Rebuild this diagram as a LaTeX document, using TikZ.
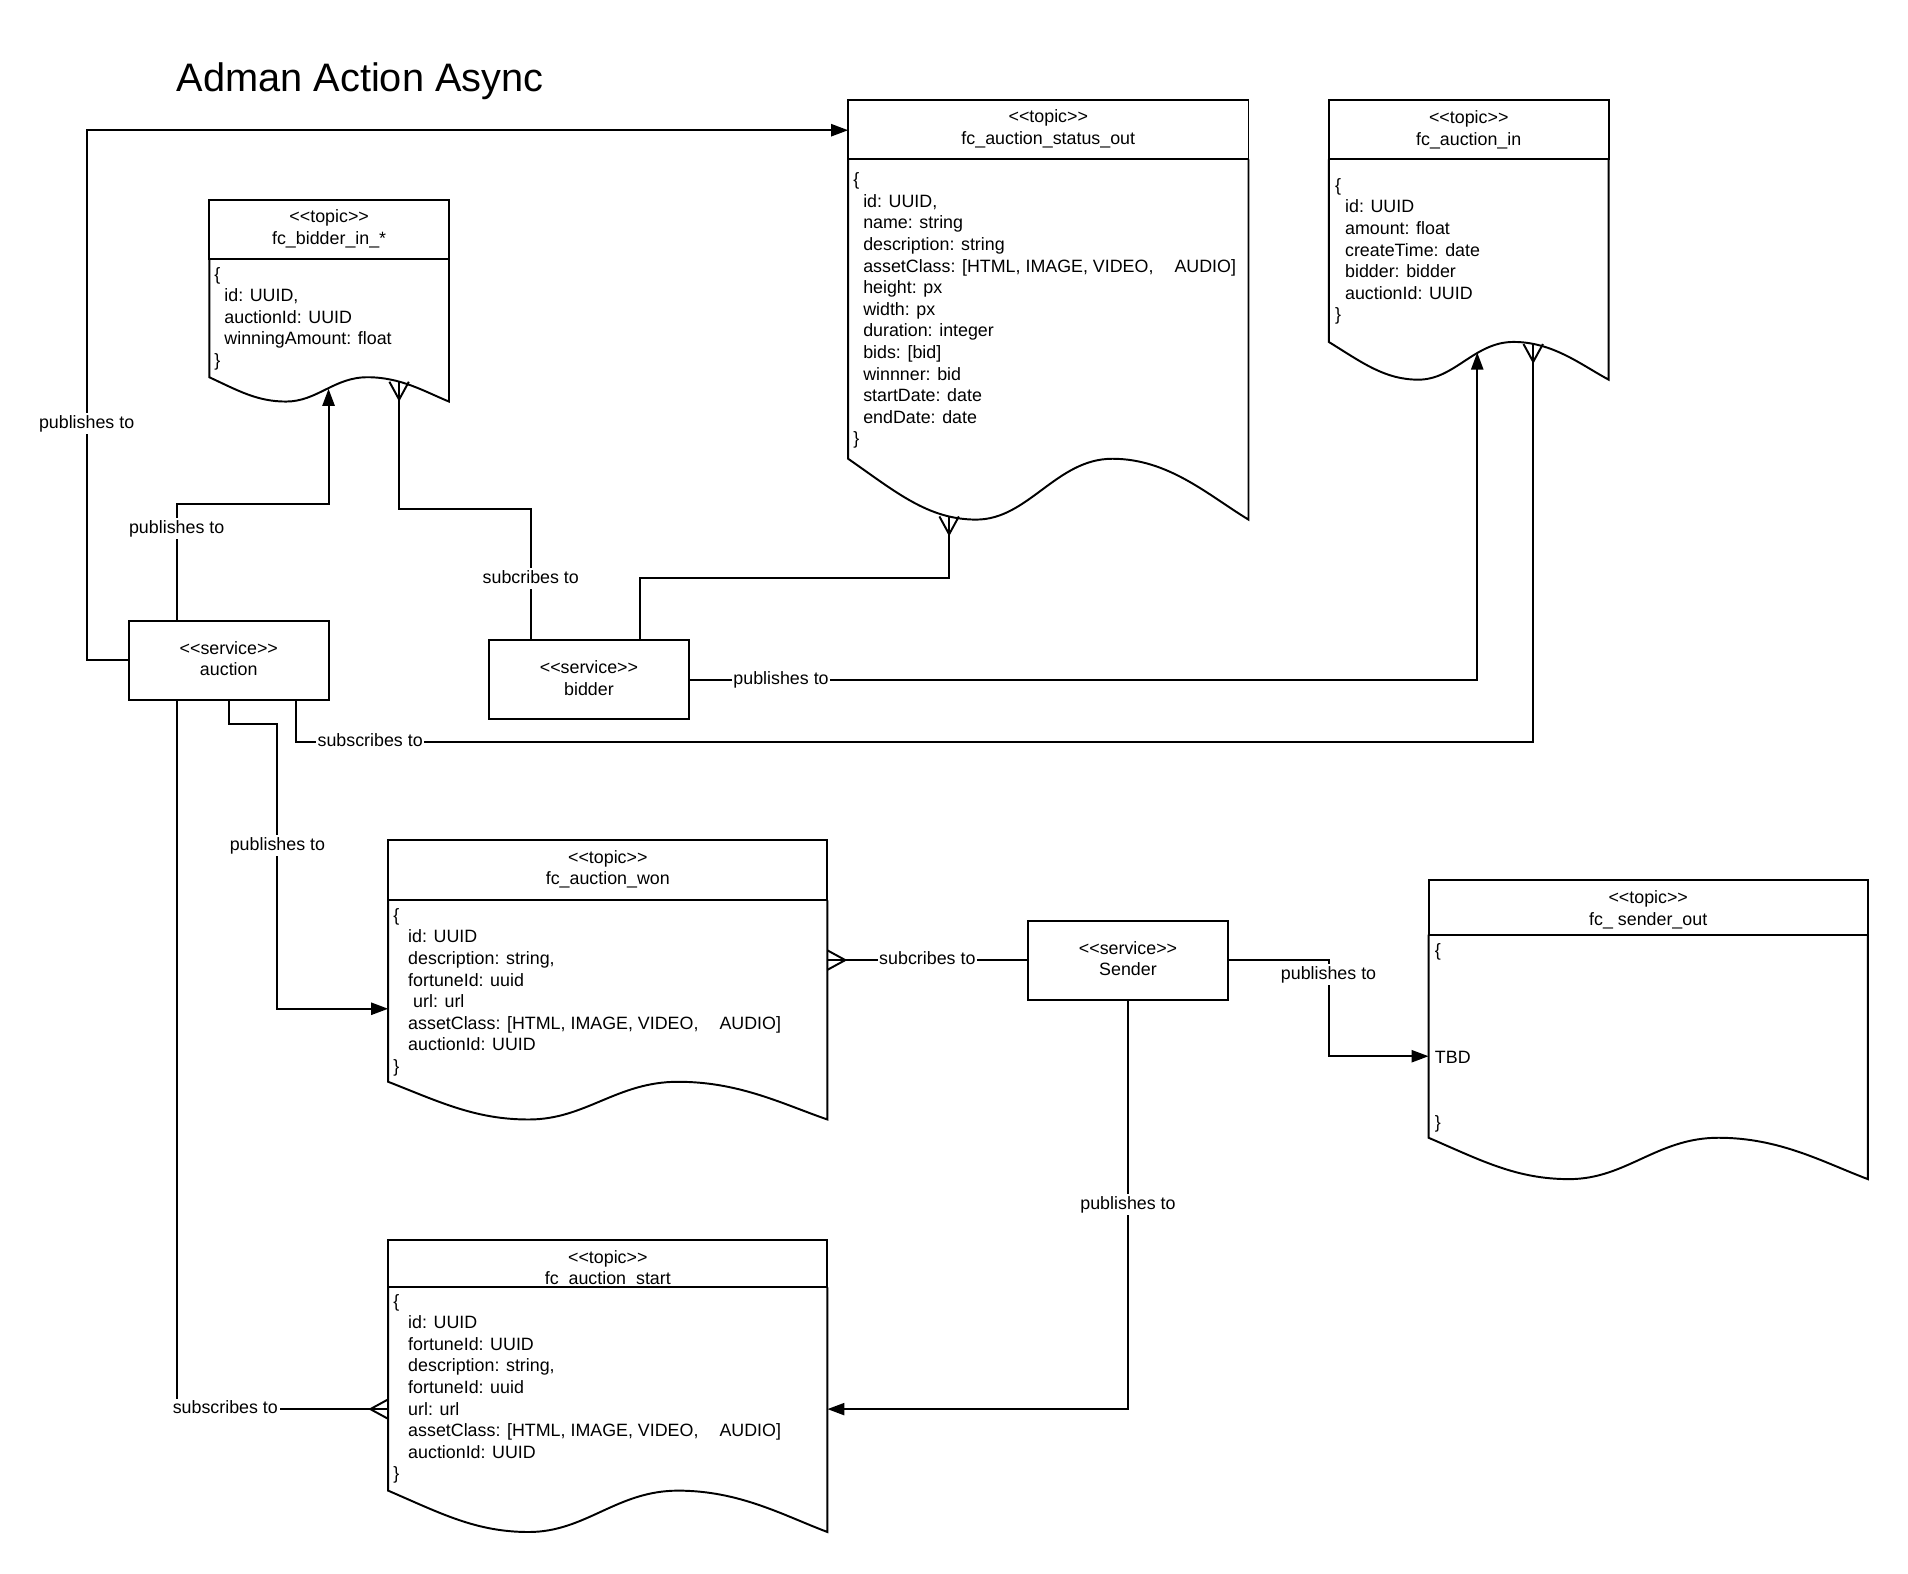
\documentclass[tikz,border=0pt]{standalone}
\usepackage{fontspec}
\setmainfont{Liberation Sans}[Ligatures=TeXOff]
\usetikzlibrary{arrows.meta,calc}

\newcommand\lucidfont{\fontsize{11}{13.3}\selectfont}
\newcommand\indsp[1]{\hspace*{#1\fontdimen2\font}}

% crow's foot for subscriptions
\pgfdeclarearrow{
  name = Crow,
  setup code = {
    \pgfarrowssettipend{0pt}
    \pgfarrowssetlineend{0pt}
    \pgfarrowssetbackend{-11pt}
    \pgfarrowssetvisualbackend{-11pt}
    \pgfarrowshullpoint{0pt}{6pt}
    \pgfarrowshullpoint{0pt}{-6pt}
    \pgfarrowshullpoint{-11pt}{0pt}
  },
  drawing code = {
    \pgfsetdash{}{0pt}
    \pgfpathmoveto{\pgfqpoint{0pt}{6pt}}
    \pgfpathlineto{\pgfqpoint{-11pt}{0pt}}
    \pgfpathlineto{\pgfqpoint{0pt}{-6pt}}
    \pgfusepathqstroke
  }
}

% x0, x1, top, divider, wave top, wave bottom
\newcommand\topicshape[6]{%
  \pgfmathsetmacro\topw{#2-#1}%
  \pgfmathsetmacro\topa{#6-#5}%
  \draw[shape line] (#1,#3) rectangle (#2,#4);
  \draw[shape line] (#1,#4) -- (#1,#5)
    .. controls +(0.12*\topw,0.55*\topa) and +(-0.12*\topw,0) .. (#1+0.32*\topw,#6)
    .. controls +(0.13*\topw,0) and +(-0.14*\topw,0) .. (#1+0.66*\topw,#5)
    .. controls +(0.14*\topw,0) and +(-0.1*\topw,-0.4*\topa) .. (#2,#6)
    -- (#2,#4);
}

\begin{document}
\begin{tikzpicture}[x=0.75pt,y=-0.75pt,
    every node/.style={font=\lucidfont},
    shape line/.style={line width=1.2pt},
    service/.style={draw,line width=1.2pt,minimum width=123pt,minimum height=48.75pt,align=center,inner sep=0pt},
    head/.style={align=center,inner sep=0pt},
    body/.style={anchor=north west,align=left,inner sep=0pt},
    lbl/.style={fill=white,inner sep=1pt,text height=8.5pt,text depth=2.5pt},
    pub/.style={line width=1.2pt,-{Triangle[length=10.5pt,width=7.5pt]}},
    sub/.style={line width=1.2pt,-Crow}]

    \useasboundingbox (0,0) rectangle (1568,1293);

    \node[font=\fontsize{24.5}{29}\selectfont,anchor=base west,inner sep=0pt] (title) at (145,75) {Adman Action Async};

    % topics
    \topicshape{172}{369}{164}{213}{310}{330}
    \node[head] (bidinhead) at (270.5,188) {<<topic>>\\fc\_bidder\_in\_*};
    \node[body] (bidinbody) at (176,217.5) {\strut\{\\\indsp{2}id: UUID,\\\indsp{2}auctionId: UUID\\\indsp{2}winningAmount: float\\\}};

    \topicshape{697}{1026}{82}{131}{377}{427}
    \node[head] (statushead) at (861.5,106) {<<topic>>\\fc\_auction\_status\_out};
    \node[body] (statusbody) at (701,140) {\strut\{\\\indsp{2}id: UUID,\\\indsp{2}name: string\\\indsp{2}description: string\\\indsp{2}assetClass: [HTML, IMAGE, VIDEO,\hspace{13pt}AUDIO]\\\indsp{2}height: px\\\indsp{2}width: px\\\indsp{2}duration: integer\\\indsp{2}bids: [bid]\\\indsp{2}winnner: bid\\\indsp{2}startDate: date\\\indsp{2}endDate: date\\\}};

    \topicshape{1092}{1322}{82}{131}{281}{312}
    \node[head] (auctioninhead) at (1207,106.5) {<<topic>>\\fc\_auction\_in};
    \node[body] (auctioninbody) at (1097,144.5) {\strut\{\\\indsp{2}id: UUID\\\indsp{2}amount: float\\\indsp{2}createTime: date\\\indsp{2}bidder: bidder\\\indsp{2}auctionId: UUID\\\}};

    \topicshape{319}{680}{690}{740}{889}{920}
    \node[head] (wonhead) at (499.5,714.5) {<<topic>>\\fc\_auction\_won};
    \node[body] (wonbody) at (323,744.5) {\strut\{\\\indsp{3}id: UUID\\\indsp{3}description: string,\\\indsp{3}fortuneId: uuid\\\indsp{4}url: url\\\indsp{3}assetClass: [HTML, IMAGE, VIDEO,\hspace{13pt}AUDIO]\\\indsp{3}auctionId: UUID\\\}};

    \topicshape{1174}{1535}{723}{768}{935}{969}
    \node[head] (senderouthead) at (1354.5,747.5) {<<topic>>\\fc\_ sender\_out};
    \node[body] (senderoutbody) at (1179,773.5) {\strut\{\\[52.7pt]TBD\\[26.5pt]\}};

    \topicshape{319}{680}{1019}{1058}{1225}{1259}
    \node[head] (starthead) at (499.5,1043) {<<topic>>\\fc\_auction\_start};
    \node[body] (startbody) at (323,1061.5) {\strut\{\\\indsp{3}id: UUID\\\indsp{3}fortuneId: UUID\\\indsp{3}description: string,\\\indsp{3}fortuneId: uuid\\\indsp{3}url: url\\\indsp{3}assetClass: [HTML, IMAGE, VIDEO,\hspace{13pt}AUDIO]\\\indsp{3}auctionId: UUID\\\}};

    \coordinate (statusin) at (697,107);
    \coordinate (bidinpub) at (270,319.5);
    \coordinate (bidinsub) at (328,313.7);
    \coordinate (statussub) at (780,424.4);
    \coordinate (auctioninpub) at (1214,289.7);
    \coordinate (auctioninsub) at (1260,282.7);
    \coordinate (wonin) at (319,829);
    \coordinate (wonsub) at (680,789);
    \coordinate (senderoutin) at (1174,868);
    \coordinate (startsub) at (319,1158);
    \coordinate (startin) at (680,1158);

    % services
    \node[service] (auction) at (188,542.5) {<<service>>\\auction\vspace{2pt}};
    \node[service] (bidder) at (484,558.5) {<<service>>\\bidder\vspace{2pt}};
    \node[service] (sender) at (927,789) {<<service>>\\Sender\vspace{2pt}};

    \draw[pub] (auction.west) -- ++(-34,0) |- node[lbl,pos=0.223] (l1) {publishes to} (statusin);
    \draw[pub] (auction.north west) ++(40,0) -- node[lbl,pos=0.79] (l2) {publishes to} ++(0,-95) -| (bidinpub);
    \draw[sub] (bidder.north west) ++(35,0) -- node[lbl,pos=0.467] (l3) {subcribes to} ++(0,-107) -| (bidinsub);
    \draw[sub] (bidder.north west) ++(125,0) -- ++(0,-50) -| (statussub);
    \draw[pub] (bidder.east) -| node[lbl,pos=0.058] (l5) {publishes to} (auctioninpub);
    \draw[sub] (auction.south west) ++(138,0) -- ++(0,34) -| node[lbl,pos=0.03] (l6) {subscribes to} (auctioninsub);
    \draw[pub] (auction.south) -- ++(0,19) -- ++(40,0) |- node[lbl,pos=0.213] (l7) {publishes to} (wonin);
    \draw[sub] (auction.south west) ++(40,0) |- node[lbl,pos=0.615] (l8) {subscribes to} (startsub);
    \draw[sub] (sender.west) -- node[lbl] (l9) {subcribes to} (wonsub);
    \draw[pub] (sender.east) -- ++(82,0) |- node[lbl,pos=0.075] (l10) {publishes to} (senderoutin);
    \draw[pub] (sender.south) |- node[lbl,pos=0.25] (l11) {publishes to} (startin);
\end{tikzpicture}
\end{document}
